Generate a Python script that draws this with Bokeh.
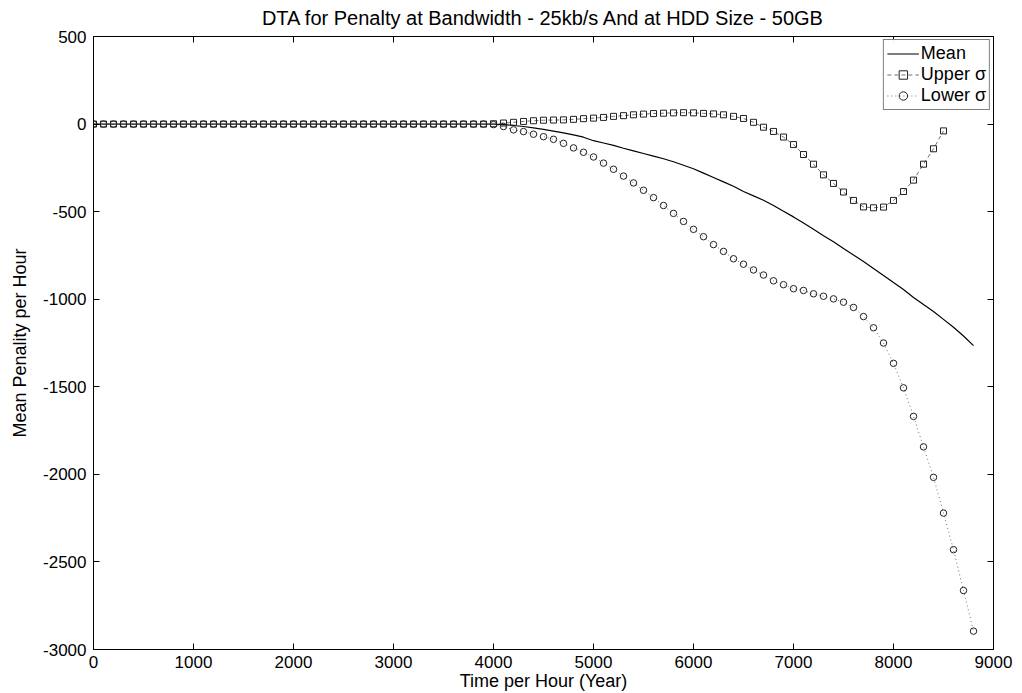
from bokeh.plotting import figure
from bokeh.models import (Range1d, LinearAxis, FixedTicker, Legend, LegendItem,
                          CustomLabelingPolicy)
from bokeh.embed import file_html
from bokeh.resources import INLINE

# ---- data ----
hours = [0, 100, 200, 300, 400, 500, 600, 700, 800, 900,
         1000, 1100, 1200, 1300, 1400, 1500, 1600, 1700, 1800, 1900,
         2000, 2100, 2200, 2300, 2400, 2500, 2600, 2700, 2800, 2900,
         3000, 3100, 3200, 3300, 3400, 3500, 3600, 3700, 3800, 3900,
         4000, 4100, 4200, 4300, 4400, 4500, 4600, 4700, 4800, 4900,
         5000, 5100, 5200, 5300, 5400, 5500, 5600, 5700, 5800, 5900,
         6000, 6100, 6200, 6300, 6400, 6500, 6600, 6700, 6800, 6900,
         7000, 7100, 7200, 7300, 7400, 7500, 7600, 7700, 7800, 7900,
         8000, 8100, 8200, 8300, 8400, 8500, 8600, 8700, 8800]

mean_vals = [0, 0, 0, 0, 0, 0, 0, 0, 0, 0,
             0, 0, 0, 0, 0, 0, 0, 0, 0, 0,
             0, 0, 0, 0, 0, 0, 0, 0, 0, 0,
             0, 0, 0, 0, 0, 0, 0, 0, 0, 0,
             0, -3, -8, -14, -22, -30, -40, -50, -62, -75,
             -95, -108, -122, -138, -153, -168, -183, -198, -215, -235,
             -255, -280, -305, -330, -355, -385, -410, -435, -465, -498,
             -530, -565, -600, -637, -672, -710, -748, -785, -825, -865,
             -905, -945, -990, -1030, -1070, -1115, -1160, -1210, -1265]

upper_hours = [0, 100, 200, 300, 400, 500, 600, 700, 800, 900,
               1000, 1100, 1200, 1300, 1400, 1500, 1600, 1700, 1800, 1900,
               2000, 2100, 2200, 2300, 2400, 2500, 2600, 2700, 2800, 2900,
               3000, 3100, 3200, 3300, 3400, 3500, 3600, 3700, 3800, 3900,
               4000, 4100, 4200, 4300, 4400, 4500, 4600, 4700, 4800, 4900,
               5000, 5100, 5200, 5300, 5400, 5500, 5600, 5700, 5800, 5900,
               6000, 6100, 6200, 6300, 6400, 6500, 6600, 6700, 6800, 6900,
               7000, 7100, 7200, 7300, 7400, 7500, 7600, 7700, 7800, 7900,
               8000, 8100, 8200, 8300, 8400, 8500]
upper_vals = [0, 0, 0, 0, 0, 0, 0, 0, 0, 0,
              0, 0, 0, 0, 0, 0, 0, 0, 0, 0,
              0, 0, 0, 0, 0, 0, 0, 0, 0, 0,
              0, 0, 0, 0, 0, 0, 0, 0, 0, 0,
              2, 6, 10, 15, 19, 22, 23, 24, 27, 31,
              34, 38, 44, 48, 53, 57, 60, 62, 64, 65,
              64, 61, 58, 53, 44, 32, 10, -18, -42, -74,
              -117, -174, -229, -290, -339, -388, -436, -473, -478, -474,
              -436, -385, -320, -229, -141, -39]

lower_vals = [0, 0, 0, 0, 0, 0, 0, 0, 0, 0,
              0, 0, 0, 0, 0, 0, 0, 0, 0, 0,
              0, 0, 0, 0, 0, 0, 0, 0, 0, 0,
              0, 0, 0, 0, 0, 0, 0, 0, 0, 0,
              -3, -14, -33, -43, -58, -72, -87, -110, -136, -161,
              -188, -223, -258, -297, -336, -378, -420, -465, -510, -556,
              -601, -643, -688, -727, -769, -800, -833, -862, -895, -917,
              -940, -950, -969, -983, -998, -1017, -1047, -1099, -1163, -1250,
              -1366, -1506, -1669, -1843, -2017, -2221, -2430, -2663, -2895]

x_ticks = [0, 1000, 2000, 3000, 4000, 5000, 6000, 7000, 8000, 9000]
y_ticks = [-3000, -2500, -2000, -1500, -1000, -500, 0, 500]
y_tick_labels = ["-3000", "-2500", "-2000", "-1500", "-1000", "-500", "0", "500"]

series_names = ["Mean", "Upper \u03c3", "Lower \u03c3"]
title_text = "DTA for Penalty at Bandwidth - 25kb/s And at HDD Size - 50GB"
x_title = "Time per Hour (Year)"
y_title = "Mean Penality per Hour"

FONT = "Liberation Sans"

p = figure(frame_width=900, frame_height=613,
           x_range=Range1d(0, 9000), y_range=Range1d(-3000, 500),
           output_backend="svg", toolbar_location=None,
           min_border_left=93, min_border_top=36, min_border_right=20,
           min_border_bottom=40,
           title=title_text)

p.title.align = "center"
p.title.text_font = FONT
p.title.text_font_style = "normal"
p.title.text_font_size = "20px"
p.title.text_color = "black"
p.title.text_line_height = 0.7
p.title.offset = 0
p.title.standoff = 8

p.xgrid.visible = False
p.ygrid.visible = False
p.outline_line_color = "black"
p.outline_line_width = 1
p.background_fill_color = "white"

for ax in (p.xaxis[0], p.yaxis[0]):
    ax.major_tick_in = 6
    ax.major_tick_out = 0
    ax.minor_tick_line_color = None
    ax.axis_line_color = "black"
    ax.major_tick_line_color = "black"
    ax.major_label_text_font = FONT
    ax.major_label_text_font_size = "17px"
    ax.major_label_text_color = "black"
    ax.axis_label_text_font = FONT
    ax.axis_label_text_font_size = "18px"
    ax.axis_label_text_font_style = "normal"
    ax.axis_label_text_color = "black"

p.xaxis[0].ticker = FixedTicker(ticks=x_ticks)
p.yaxis[0].ticker = FixedTicker(ticks=y_ticks)
p.yaxis[0].major_label_overrides = dict(zip(y_ticks, y_tick_labels))
p.xaxis[0].axis_label = x_title
p.yaxis[0].axis_label = y_title
p.xaxis[0].major_label_standoff = 6
p.xaxis[0].axis_label_standoff = 0
p.yaxis[0].major_label_standoff = 7
p.yaxis[0].axis_label_standoff = 10

hide_all = CustomLabelingPolicy(
    code="const n = indices.size; for (let i = 0; i < n; i++) { indices.unset(i) } return indices")

# box ticks on top and right (no labels)
top_ax = LinearAxis(ticker=FixedTicker(ticks=x_ticks), major_tick_in=6, major_tick_out=0,
                    minor_tick_line_color=None, major_label_standoff=0,
                    major_label_text_font_size="1px", major_label_policy=hide_all,
                    axis_line_color="black")
right_ax = LinearAxis(ticker=FixedTicker(ticks=y_ticks), major_tick_in=6, major_tick_out=0,
                      minor_tick_line_color=None, major_label_standoff=0,
                      major_label_text_font_size="1px", major_label_policy=hide_all,
                      axis_line_color="black")
p.add_layout(top_ax, "above")
p.add_layout(right_ax, "right")

# series
mean_r = p.line(hours, mean_vals, line_color="black", line_width=1.2)

up_line = p.line(upper_hours, upper_vals, line_color="#707070", line_width=1, line_dash="4 3")
up_pts = p.scatter(upper_hours, upper_vals, marker="square", size=6,
                   fill_color=None, line_color="#222222", line_width=1)

lo_line = p.line(hours, lower_vals, line_color="#707070", line_width=1, line_dash="1 3")
lo_pts = p.scatter(hours, lower_vals, marker="circle", size=6.5,
                   fill_color=None, line_color="#222222", line_width=1)

legend = Legend(items=[
    LegendItem(label=series_names[0], renderers=[mean_r]),
    LegendItem(label=series_names[1], renderers=[up_line, up_pts]),
    LegendItem(label=series_names[2], renderers=[lo_line, lo_pts]),
], location="top_right")
legend.label_text_font = FONT
legend.label_text_font_size = "18px"
legend.label_text_color = "black"
legend.border_line_color = "black"
legend.border_line_width = 1
legend.background_fill_color = "white"
legend.margin = 3
legend.padding = 3
legend.spacing = 0
legend.label_height = 21
legend.glyph_height = 21
legend.glyph_width = 32
legend.label_standoff = 2
p.add_layout(legend, "center")

open("out.html", "w").write(file_html(p, INLINE))
